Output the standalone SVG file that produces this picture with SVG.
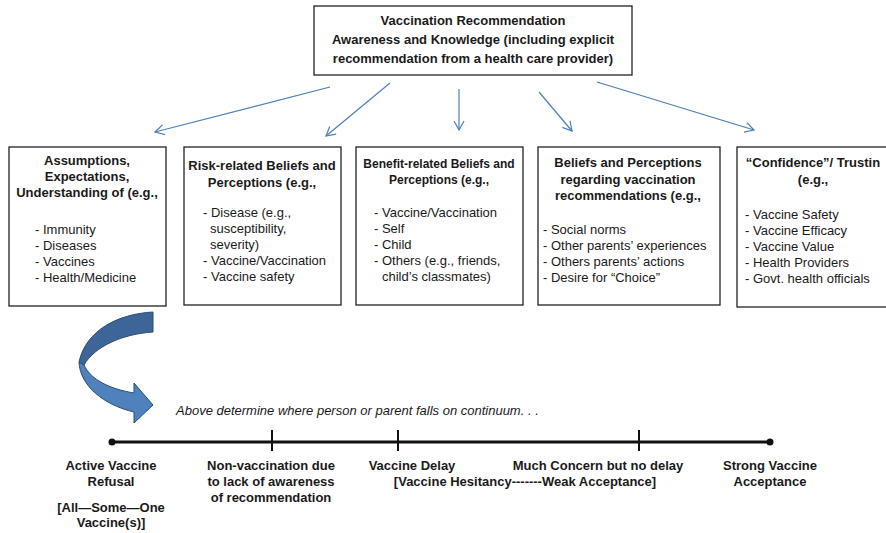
<svg xmlns="http://www.w3.org/2000/svg" width="886" height="533" viewBox="0 0 886 533">
<defs>
<marker id="open" markerWidth="12" markerHeight="12" refX="10" refY="6" orient="auto" markerUnits="userSpaceOnUse">
<path d="M1,1 L10,6 L1,11" fill="none" stroke="#4A7EBB" stroke-width="1.2"/>
</marker>
</defs>
<style>
text{font-family:"Liberation Sans",Arial,sans-serif;font-size:13px;fill:#1a1a1a}
.b{font-weight:bold}
.c{text-anchor:middle}
.s{font-size:12px}
.box{fill:#fff;stroke:#222;stroke-width:1.3}
.conn{stroke:#4A7EBB;stroke-width:1.2;fill:none}
.tl{stroke:#111;stroke-width:3;fill:none}
.tick{stroke:#111;stroke-width:2}
</style>
<g id="top">
<rect class="box" x="314" y="6" width="318" height="69"/>
<text class="b c" x="473" y="25">Vaccination Recommendation</text>
<text class="b c" x="473" y="44">Awareness and Knowledge (including explicit</text>
<text class="b c" x="473" y="63">recommendation from a health care provider)</text>
</g>
<g id="connectors">
<line class="conn" x1="330" y1="87" x2="155" y2="132" marker-end="url(#open)"/>
<line class="conn" x1="390" y1="83" x2="326" y2="136" marker-end="url(#open)"/>
<line class="conn" x1="459" y1="89" x2="459" y2="130" marker-end="url(#open)"/>
<line class="conn" x1="539" y1="92" x2="572" y2="131" marker-end="url(#open)"/>
<line class="conn" x1="597" y1="82" x2="754" y2="130" marker-end="url(#open)"/>
</g>
<g id="box1">
<rect class="box" x="9" y="147" width="157" height="159"/>
<text class="b c" x="87" y="165">Assumptions,</text>
<text class="b c" x="87" y="181">Expectations,</text>
<text class="b c" x="87" y="197">Understanding of (e.g.,</text>
<text x="35" y="234">- Immunity</text>
<text x="35" y="250">- Diseases</text>
<text x="35" y="266">- Vaccines</text>
<text x="35" y="282">- Health/Medicine</text>
</g>
<g id="box2">
<rect class="box" x="184" y="147" width="157" height="158"/>
<text class="b c" x="262" y="170">Risk-related Beliefs and</text>
<text class="b c" x="262" y="187">Perceptions (e.g.,</text>
<text x="203" y="217">- Disease (e.g.,</text>
<text x="210" y="233">susceptibility,</text>
<text x="210" y="249">severity)</text>
<text x="203" y="265">- Vaccine/Vaccination</text>
<text x="203" y="281">- Vaccine safety</text>
</g>
<g id="box3">
<rect class="box" x="356" y="147" width="167" height="158"/>
<text class="b c s" x="439" y="168">Benefit-related Beliefs and</text>
<text class="b c s" x="439" y="184">Perceptions (e.g.,</text>
<text x="374" y="217">- Vaccine/Vaccination</text>
<text x="374" y="233">- Self</text>
<text x="374" y="249">- Child</text>
<text x="374" y="265">- Others (e.g., friends,</text>
<text x="382" y="281">child’s classmates)</text>
</g>
<g id="box4">
<rect class="box" x="538" y="147" width="182" height="158"/>
<text class="b c" x="628" y="167">Beliefs and Perceptions</text>
<text class="b c" x="628" y="184">regarding vaccination</text>
<text class="b c" x="628" y="200">recommendations (e.g.,</text>
<text x="543" y="234">- Social norms</text>
<text x="543" y="250">- Other parents’ experiences</text>
<text x="543" y="266">- Others parents’ actions</text>
<text x="543" y="282">- Desire for “Choice”</text>
</g>
<g id="box5">
<rect class="box" x="737" y="147" width="160" height="160"/>
<text class="b c" x="813" y="167">“Confidence”/ Trustin</text>
<text class="b c" x="813" y="184">(e.g.,</text>
<text x="745" y="219">- Vaccine Safety</text>
<text x="745" y="235">- Vaccine Efficacy</text>
<text x="745" y="251">- Vaccine Value</text>
<text x="745" y="267">- Health Providers</text>
<text x="745" y="283">- Govt. health officials</text>
</g>
<g id="curved-arrow" stroke="#2C4D75" stroke-width="1" stroke-linejoin="round">
<path d="M153,312 C118,314 86,330 79,362 L84,365 C95,346 123,334 153,332 Z" fill="#3E6597"/>
<path d="M79,362 C80,386 104,405 134,412 L134,423 L153,405 L134,383 L134,393 C110,389 91,380 84,365 Z" fill="#4F81BD"/>
</g>
<text x="176" y="415" font-style="italic">Above determine where person or parent falls on continuum. . .</text>
<g id="timeline">
<line class="tl" x1="112" y1="442" x2="770" y2="442"/>
<circle cx="112" cy="442" r="3.5" fill="#111"/>
<circle cx="770" cy="442" r="3.5" fill="#111"/>
<line class="tick" x1="272" y1="430" x2="272" y2="451"/>
<line class="tick" x1="398" y1="430" x2="398" y2="451"/>
<line class="tick" x1="639" y1="430" x2="639" y2="451"/>
</g>
<g id="labels">
<text class="b c" x="111" y="470">Active Vaccine</text>
<text class="b c" x="111" y="486">Refusal</text>
<text class="b c" x="111" y="512">[All—Some—One</text>
<text class="b c" x="111" y="527">Vaccine(s)]</text>
<text class="b c" x="271" y="470">Non-vaccination due</text>
<text class="b c" x="271" y="486">to lack of awareness</text>
<text class="b c" x="271" y="502">of recommendation</text>
<text class="b c" x="412" y="470">Vaccine Delay</text>
<text class="b c" x="525" y="486">[Vaccine Hesitancy-------Weak Acceptance]</text>
<text class="b c" x="598" y="470">Much Concern but no delay</text>
<text class="b c" x="770" y="470">Strong Vaccine</text>
<text class="b c" x="770" y="486">Acceptance</text>
</g>
</svg>
